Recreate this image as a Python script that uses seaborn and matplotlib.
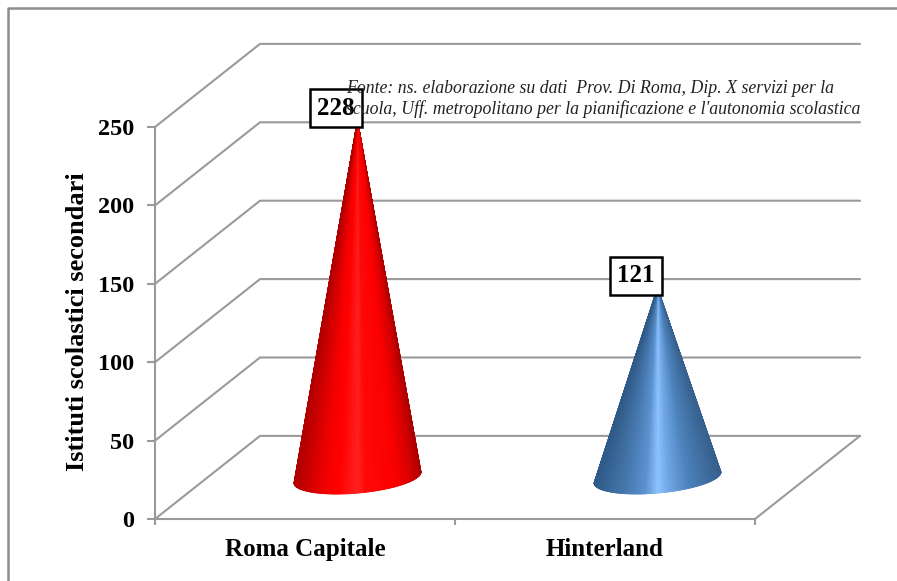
import numpy as np
import pandas as pd
import matplotlib
matplotlib.use('Agg')
import matplotlib.pyplot as plt
import seaborn as sns
from matplotlib.collections import PolyCollection
from matplotlib.colors import LinearSegmentedColormap
from matplotlib.lines import Line2D

# dati
categories = ['Roma Capitale', 'Hinterland']
values = [228, 121]
y_ticks = [0, 50, 100, 150, 200, 250]
y_label = 'Istituti scolastici secondari'
note = ("Fonte: ns. elaborazione su dati  Prov. Di Roma, Dip. X servizi per la\n"
        "scuola, Uff. metropolitano per la pianificazione e l'autonomia scolastica")

GRAY = '#9a9a9a'
W, H = 897, 581
DEPTH_X = 0.35  # spostamento del piano di fondo, unita' x
DEPTH_Y = 53    # spostamento del piano di fondo, unita' y
R = 0.2         # raggio della base

red_cmap = LinearSegmentedColormap.from_list('rosso', [
    (0.0, '#b00000'), (0.12, '#d40000'), (0.25, '#f50000'), (0.35, '#ff0000'),
    (0.5, '#ff2020'), (0.56, '#ff0808'), (0.8, '#fb0000'), (0.92, '#d80000'),
    (1.0, '#aa0000')])
blue_cmap = LinearSegmentedColormap.from_list('blu', [
    (0.0, '#2f5a88'), (0.22, '#4576ab'), (0.4, '#5b92d0'), (0.5, '#8cc3ff'),
    (0.58, '#70a8e6'), (0.75, '#4c82bb'), (1.0, '#365f8c')])
cmaps = [red_cmap, blue_cmap]

sns.set_theme(style='white')
plt.rcParams['font.family'] = ['Liberation Serif', 'DejaVu Serif']

fig = plt.figure(figsize=(W / 100, H / 100), dpi=100)
ax = fig.add_axes([155 / W, 1 - 519 / H, 600 / W, 392 / H])
ax.patch.set_alpha(0)

df = pd.DataFrame({'zona': categories, 'istituti': values})
sns.barplot(data=df, x='zona', y='istituti', ax=ax)
ax.set_xlim(-0.5, 1.5)
ax.set_ylim(0, 250)

# griglia 3D: pareti di sinistra e di fondo
for v in y_ticks:
    ax.plot([-0.5, -0.5 + DEPTH_X, 1.5 + DEPTH_X], [v, v + DEPTH_Y, v + DEPTH_Y],
            color=GRAY, lw=1.5, clip_on=False, zorder=1)
ax.plot([1.5, 1.5 + DEPTH_X], [0, DEPTH_Y], color=GRAY, lw=1.5, clip_on=False, zorder=1)

# coni al posto delle barre
for bar, val, cmap in zip(list(ax.patches), values, cmaps):
    bar.set_visible(False)
    cx = bar.get_x() + bar.get_width() / 2
    top = bar.get_height()
    apex = (cx + 0.5 * DEPTH_X, top + 0.5 * DEPTH_Y)
    t0 = np.arctan2(0.2 * 105, 60)
    t = np.linspace(t0, t0 - np.pi, 241)
    bx = cx + DEPTH_X * (0.5 + R * np.sin(t)) + R * np.cos(t)
    by = DEPTH_Y * (0.5 + R * np.sin(t))
    polys, cols = [], []
    for i in range(len(t) - 1):
        polys.append([apex, (bx[i], by[i]), (bx[i + 1], by[i + 1])])
        u = (0.5 * (bx[i] + bx[i + 1]) - bx.min()) / (bx.max() - bx.min())
        cols.append(cmap(u))
    ax.add_collection(PolyCollection(polys, facecolors=cols, edgecolors=cols,
                                     linewidths=0.5, zorder=3, clip_on=False))
    ax.annotate(str(val), xy=apex, xytext=(-15.5, 8.5), textcoords='offset points',
                ha='center', va='center', fontsize=18, fontweight='bold', color='black',
                zorder=6, annotation_clip=False,
                bbox=dict(boxstyle='square,pad=0.3', fc='white', ec='black', lw=1.8))

ax.set_ylabel('')
ax.set_xlabel('')
sns.despine(ax=ax)
for s in ['left', 'bottom']:
    ax.spines[s].set_color(GRAY)
    ax.spines[s].set_linewidth(1.5)

ax.set_yticks(y_ticks)
ax.set_xticks([0, 1])
ax.set_xticklabels(categories, fontsize=18, fontweight='bold', color='black')
ax.set_xticks([-0.5, 0.5, 1.5], minor=True)
ax.tick_params(axis='x', which='major', length=0, pad=14)
ax.tick_params(axis='x', which='minor', bottom=True, length=4, width=1.5, color=GRAY)
ax.tick_params(axis='y', left=True, length=6, width=1.5, color=GRAY, pad=9)
for lab in ax.get_yticklabels():
    lab.set_fontsize(17.5)
    lab.set_fontweight('bold')
    lab.set_color('black')

fig.text(78 / W, 1 - 322 / H, y_label, rotation=90, ha='center', va='center',
         fontsize=19, fontweight='bold', color='black')

fig.text(346 / W, 1 - 99 / H, note, ha='left', va='center', fontsize=12.8,
         style='italic', color='#222222', linespacing=1.25, zorder=2)

# cornice: solo lato sinistro e superiore
fig.add_artist(Line2D([8 / W, 8 / W, 1], [0, 1 - 8 / H, 1 - 8 / H], color='#8c8c8c', lw=1.8))

fig.savefig('out.png', dpi=100, facecolor='white')
